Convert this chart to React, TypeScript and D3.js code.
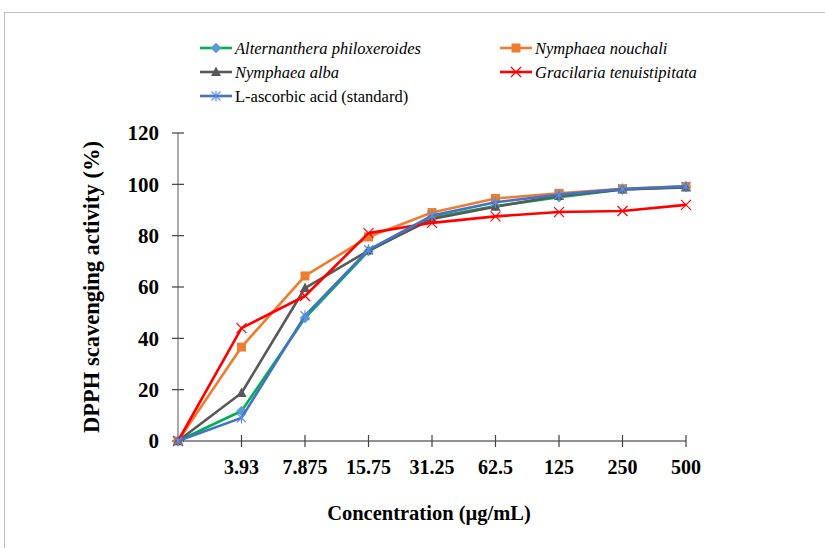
import { useEffect, useRef } from "react";
import * as d3 from "d3";

const concentrations = ["0", "3.93", "7.875", "15.75", "31.25", "62.5", "125", "250", "500"];
const yTicks = [0, 20, 40, 60, 80, 100, 120];

const alternanthera = [0, 11.7, 47.9, 74, 87, 91.5, 95, 98, 99];
const nouchali = [0, 36.6, 64.3, 79.5, 89, 94.5, 96.5, 98.3, 99.2];
const alba = [0, 18.7, 59.6, 74.2, 86.5, 91.3, 95.5, 98, 98.8];
const gracilaria = [0, 44, 56.5, 81, 85, 87.5, 89.2, 89.6, 92];
const ascorbic = [0, 9, 48.8, 74.5, 87.8, 93, 96, 98.2, 99.2];

const series = [
  { name: "Alternanthera philoxeroides", values: alternanthera, color: "#00b050", marker: "diamond", italic: true },
  { name: "Nymphaea nouchali", values: nouchali, color: "#ed7d31", marker: "square", italic: true },
  { name: "Nymphaea alba", values: alba, color: "#595959", marker: "triangle", italic: true },
  { name: "Gracilaria tenuistipitata", values: gracilaria, color: "#ff0000", marker: "cross", italic: true },
  { name: "L-ascorbic acid (standard)", values: ascorbic, color: "#4472c4", marker: "star", italic: false },
];

// legend slots: [x, y]
const legendSlots = [
  [200, 48],
  [500, 48],
  [200, 72],
  [500, 72],
  [200, 96],
];

function drawMarker(g: any, kind: string, cx: number, cy: number, color: string) {
  if (kind === "diamond") {
    g.append("path")
      .attr("d", `M${cx},${cy - 5}L${cx + 5},${cy}L${cx},${cy + 5}L${cx - 5},${cy}Z`)
      .attr("fill", "#5b9bd5")
      .attr("stroke", "#5b9bd5")
      .attr("stroke-width", 0.5);
  } else if (kind === "square") {
    g.append("rect")
      .attr("x", cx - 4.5)
      .attr("y", cy - 4.5)
      .attr("width", 9)
      .attr("height", 9)
      .attr("fill", color);
  } else if (kind === "triangle") {
    g.append("path")
      .attr("d", `M${cx},${cy - 5.5}L${cx + 5},${cy + 4}L${cx - 5},${cy + 4}Z`)
      .attr("fill", color);
  } else if (kind === "cross") {
    g.append("path")
      .attr("d", `M${cx - 5},${cy - 5}L${cx + 5},${cy + 5}M${cx - 5},${cy + 5}L${cx + 5},${cy - 5}`)
      .attr("stroke", color)
      .attr("stroke-width", 1.2);
  } else if (kind === "star") {
    g.append("path")
      .attr(
        "d",
        `M${cx - 4.5},${cy - 4.5}L${cx + 4.5},${cy + 4.5}M${cx - 4.5},${cy + 4.5}L${cx + 4.5},${cy - 4.5}M${cx},${cy - 5.5}L${cx},${cy + 5.5}`
      )
      .attr("stroke", "#5b8fd9")
      .attr("stroke-width", 1.2);
  }
}

const serif = '"Liberation Serif", "DejaVu Serif", "Times New Roman", serif';

const App = () => {
  const svgRef = useRef<SVGSVGElement>(null);

  useEffect(() => {
    const width = 825;
    const height = 548;
    const svg = d3
      .select(svgRef.current)
      .attr("width", width)
      .attr("height", height)
      .attr("font-family", serif);
    svg.selectAll("*").remove();

    // outer chart border
    svg
      .append("rect")
      .attr("x", 4.5)
      .attr("y", 12.5)
      .attr("width", 840)
      .attr("height", 560)
      .attr("fill", "white")
      .attr("stroke", "#bfbfbf")
      .attr("stroke-width", 1);

    const x = d3.scalePoint().domain(concentrations).range([178, 686]);
    const y = d3.scaleLinear().domain([0, 120]).range([441, 133]);

    // y axis line
    svg
      .append("line")
      .attr("x1", 178)
      .attr("x2", 178)
      .attr("y1", y(120))
      .attr("y2", y(0))
      .attr("stroke", "#7f7f7f")
      .attr("stroke-width", 1.3);

    yTicks.forEach((t) => {
      svg
        .append("line")
        .attr("x1", 172)
        .attr("x2", 184)
        .attr("y1", y(t))
        .attr("y2", y(t))
        .attr("stroke", "#404040")
        .attr("stroke-width", 1.2);
      svg
        .append("text")
        .attr("x", 159)
        .attr("y", y(t))
        .attr("dy", "0.35em")
        .attr("text-anchor", "end")
        .attr("font-family", serif)
        .attr("font-weight", "bold")
        .attr("font-size", 21)
        .text(t);
    });

    // x axis line
    svg
      .append("line")
      .attr("x1", 178)
      .attr("x2", x("500")!)
      .attr("y1", y(0))
      .attr("y2", y(0))
      .attr("stroke", "#262626")
      .attr("stroke-width", 1.2);

    concentrations.forEach((c, i) => {
      if (i === 0) return;
      svg
        .append("line")
        .attr("x1", x(c)!)
        .attr("x2", x(c)!)
        .attr("y1", y(0) - 6)
        .attr("y2", y(0) + 6)
        .attr("stroke", "#404040")
        .attr("stroke-width", 1.2);
      svg
        .append("text")
        .attr("x", x(c)!)
        .attr("y", 474)
        .attr("text-anchor", "middle")
        .attr("font-family", serif)
        .attr("font-weight", "bold")
        .attr("font-size", 20)
        .text(c);
    });

    // axis titles
    svg
      .append("text")
      .attr("x", 429)
      .attr("y", 520)
      .attr("text-anchor", "middle")
      .attr("font-family", serif)
      .attr("font-weight", "bold")
      .attr("font-size", 20.5)
      .text("Concentration (µg/mL)");

    svg
      .append("text")
      .attr("transform", "translate(99,287) rotate(-90)")
      .attr("text-anchor", "middle")
      .attr("font-family", serif)
      .attr("font-weight", "bold")
      .attr("font-size", 22.5)
      .text("DPPH scavenging activity (%)");

    // lines
    const line = d3
      .line<number>()
      .x((_, i) => x(concentrations[i])!)
      .y((d) => y(d));

    series.forEach((s) => {
      svg
        .append("path")
        .attr("d", line(s.values))
        .attr("fill", "none")
        .attr("stroke", s.color)
        .attr("stroke-width", 2.6)
        .attr("stroke-linejoin", "round");
      const g = svg.append("g");
      s.values.forEach((v, i) => drawMarker(g, s.marker, x(concentrations[i])!, y(v), s.color));
    });

    // legend
    series.forEach((s, i) => {
      const [lx, ly] = legendSlots[i];
      svg
        .append("line")
        .attr("x1", lx)
        .attr("x2", lx + 32)
        .attr("y1", ly)
        .attr("y2", ly)
        .attr("stroke", s.color)
        .attr("stroke-width", 2.6);
      drawMarker(svg.append("g"), s.marker, lx + 16, ly, s.color);
      svg
        .append("text")
        .attr("x", lx + 35)
        .attr("y", ly)
        .attr("dy", "0.35em")
        .attr("font-family", serif)
        .attr("font-style", s.italic ? "italic" : "normal")
        .attr("font-size", 16.5)
        .text(s.name);
    });
  }, []);

  return (
    <div style={{ position: "absolute", left: 0, top: 0 }}>
      <svg ref={svgRef}></svg>
    </div>
  );
};

export default App;
